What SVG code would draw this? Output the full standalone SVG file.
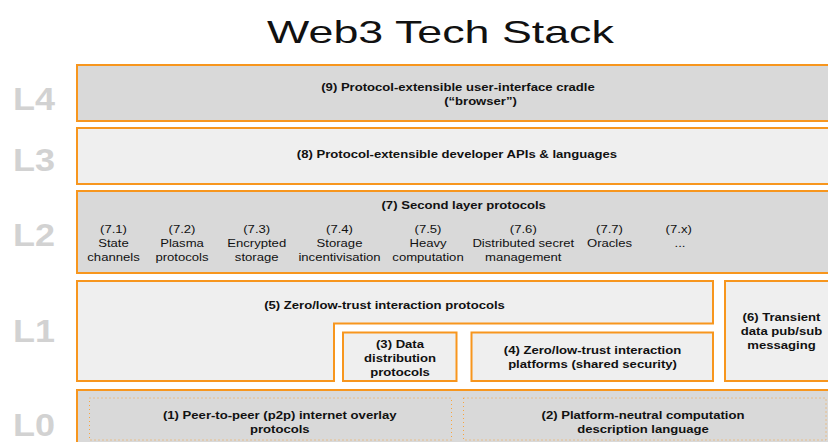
<svg xmlns="http://www.w3.org/2000/svg" width="828" height="442" viewBox="0 0 828 442">
<style>
.box{stroke:#f7961e;stroke-width:2;stroke-linejoin:miter}
.dk{fill:#d9d9d9}
.lt{fill:#efefef}
.dot{fill:none;stroke:#f7a440;stroke-width:1;stroke-dasharray:1 3}
text{font-family:"Liberation Sans",Arial,sans-serif;fill:#111;text-anchor:middle}
.b{font-size:11.4px;font-weight:bold}
.r{font-size:11.4px}
.lv{font-size:31px;font-weight:bold;fill:#d2d2d2;text-anchor:start}
.title{font-size:32px}
</style>
<rect width="828" height="442" fill="#ffffff"/>
<g id="title"><text class="title" transform="translate(440.5 43) scale(1.4 1)">Web3 Tech Stack</text></g>
<g id="levels">
<text class="lv" x="13" y="110" textLength="42" lengthAdjust="spacingAndGlyphs">L4</text>
<text class="lv" x="13" y="170.5" textLength="42" lengthAdjust="spacingAndGlyphs">L3</text>
<text class="lv" x="13" y="246" textLength="42" lengthAdjust="spacingAndGlyphs">L2</text>
<text class="lv" x="13" y="342" textLength="42" lengthAdjust="spacingAndGlyphs">L1</text>
<text class="lv" x="13" y="436" textLength="42" lengthAdjust="spacingAndGlyphs">L0</text>
</g>
<g id="n9">
<rect class="box dk" x="77" y="65" width="770" height="56"/>
<text class="b" transform="translate(458 91) scale(1.15 1)">(9) Protocol-extensible user-interface cradle</text>
<text class="b" transform="translate(480.5 105) scale(1.15 1)">(“browser”)</text>
</g>
<g id="n8">
<rect class="box lt" x="77" y="128" width="770" height="56"/>
<text class="b" transform="translate(457 157.5) scale(1.15 1)">(8) Protocol-extensible developer APIs &amp; languages</text>
</g>
<g id="n7">
<rect class="box dk" x="77" y="191" width="770" height="82"/>
<text class="b" transform="translate(463.7 208.5) scale(1.15 1)">(7) Second layer protocols</text>
<g id="n7-1">
<text class="r" transform="translate(113.5 233) scale(1.15 1)">(7.1)</text>
<text class="r" transform="translate(113.5 247) scale(1.15 1)">State</text>
<text class="r" transform="translate(113.5 261) scale(1.15 1)">channels</text>
</g>
<g id="n7-2">
<text class="r" transform="translate(182 233) scale(1.15 1)">(7.2)</text>
<text class="r" transform="translate(182 247) scale(1.15 1)">Plasma</text>
<text class="r" transform="translate(182 261) scale(1.15 1)">protocols</text>
</g>
<g id="n7-3">
<text class="r" transform="translate(256.7 233) scale(1.15 1)">(7.3)</text>
<text class="r" transform="translate(256.7 247) scale(1.15 1)">Encrypted</text>
<text class="r" transform="translate(256.7 261) scale(1.15 1)">storage</text>
</g>
<g id="n7-4">
<text class="r" transform="translate(339.5 233) scale(1.15 1)">(7.4)</text>
<text class="r" transform="translate(339.5 247) scale(1.15 1)">Storage</text>
<text class="r" transform="translate(339.5 261) scale(1.15 1)">incentivisation</text>
</g>
<g id="n7-5">
<text class="r" transform="translate(428 233) scale(1.15 1)">(7.5)</text>
<text class="r" transform="translate(428 247) scale(1.15 1)">Heavy</text>
<text class="r" transform="translate(428 261) scale(1.15 1)">computation</text>
</g>
<g id="n7-6">
<text class="r" transform="translate(523.3 233) scale(1.15 1)">(7.6)</text>
<text class="r" transform="translate(523.3 247) scale(1.15 1)">Distributed secret</text>
<text class="r" transform="translate(523.3 261) scale(1.15 1)">management</text>
</g>
<g id="n7-7">
<text class="r" transform="translate(609.5 233) scale(1.15 1)">(7.7)</text>
<text class="r" transform="translate(609.5 247) scale(1.15 1)">Oracles</text>
</g>
<g id="n7-x">
<text class="r" transform="translate(678.7 233) scale(1.15 1)">(7.x)</text>
<text class="r" transform="translate(680 247) scale(1.15 1)">...</text>
</g>
</g>
<g id="n5">
<polygon class="box lt" points="77,281 713,281 713,323.5 334,323.5 334,381 77,381"/>
<text class="b" transform="translate(384.5 308.5) scale(1.15 1)">(5) Zero/low-trust interaction protocols</text>
</g>
<g id="n3">
<rect class="box lt" x="343" y="332.5" width="113.5" height="48.5"/>
<text class="b" transform="translate(400 347.5) scale(1.15 1)">(3) Data</text>
<text class="b" transform="translate(400 361.5) scale(1.15 1)">distribution</text>
<text class="b" transform="translate(400 375.5) scale(1.15 1)">protocols</text>
</g>
<g id="n4">
<rect class="box lt" x="471.5" y="332.5" width="241.5" height="48.5"/>
<text class="b" transform="translate(592.5 353.7) scale(1.15 1)">(4) Zero/low-trust interaction</text>
<text class="b" transform="translate(592.5 367.7) scale(1.15 1)">platforms (shared security)</text>
</g>
<g id="n6">
<rect class="box lt" x="725" y="281" width="120" height="100"/>
<text class="b" transform="translate(781.5 320.7) scale(1.15 1)">(6) Transient</text>
<text class="b" transform="translate(781.5 334.7) scale(1.15 1)">data pub/sub</text>
<text class="b" transform="translate(781.5 348.7) scale(1.15 1)">messaging</text>
</g>
<g id="l0">
<rect class="box dk" x="77" y="390" width="770" height="70"/>
</g>
<g id="n1">
<rect class="dot" x="89.5" y="398" width="362" height="42"/>
<text class="b" transform="translate(279.7 419) scale(1.15 1)">(1) Peer-to-peer (p2p) internet overlay</text>
<text class="b" transform="translate(279.8 433) scale(1.15 1)">protocols</text>
</g>
<g id="n2">
<rect class="dot" x="463.5" y="398" width="362.5" height="42"/>
<text class="b" transform="translate(643 419) scale(1.15 1)">(2) Platform-neutral computation</text>
<text class="b" transform="translate(643 433) scale(1.15 1)">description language</text>
</g>
</svg>
